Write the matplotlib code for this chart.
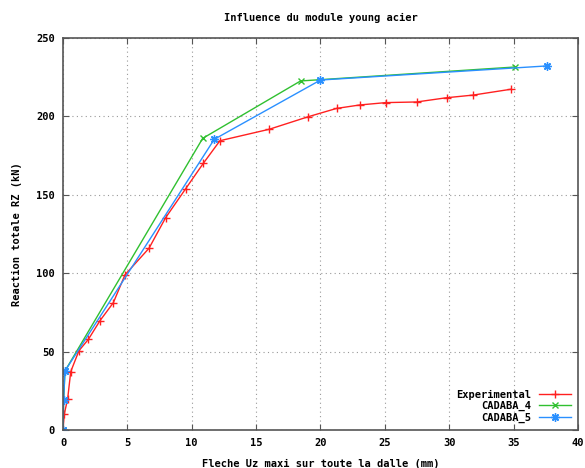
import matplotlib
matplotlib.use("Agg")
import matplotlib.pyplot as plt

# Experimental
exp_x = [0, 0.1, 0.36, 0.6, 1.24, 1.97, 2.87, 3.91, 4.81, 6.68, 7.97, 9.53, 10.9, 12.19,
         16.02, 19.05, 21.25, 23.06, 25.08, 27.46, 29.79, 31.86, 34.78]
exp_y = [0, 10.2, 19.8, 37.2, 50.6, 57.8, 69.7, 81.2, 98.9, 115.9, 135.4, 153.9, 170.1, 184.5,
         191.8, 199.8, 205.1, 207.3, 208.8, 209.2, 211.9, 213.6, 217.3]

# CADABA_4
c4_x = [0, 0.05, 0.15, 10.85, 18.45, 35.1]
c4_y = [0, 19, 37.6, 186, 222.6, 231.5]

# CADABA_5
c5_x = [0, 0.05, 0.15, 11.75, 20.0, 37.6]
c5_y = [0, 19, 37.6, 185.4, 223.2, 232.2]

font = "DejaVu Sans Mono"
fs = 7.5

fig = plt.figure(figsize=(5.85, 4.68), dpi=100)
ax = fig.add_axes([0.1077, 0.0812, 0.8803, 0.8376])

ax.plot(exp_x, exp_y, color="#ff2020", lw=1, marker="+", ms=6, mew=1, label="Experimental")
ax.plot(c4_x, c4_y, color="#30c030", lw=1, marker="x", ms=5, mew=1, label="CADABA_4")
ax.plot(c5_x, c5_y, color="#2a90ff", lw=1, marker=(8, 2, 0), ms=6, mew=1, label="CADABA_5")

ax.set_xlim(0, 40)
ax.set_ylim(0, 250)
ax.set_xticks(range(0, 41, 5))
ax.set_yticks(range(0, 251, 50))
ax.grid(True, linestyle=(0, (1, 3)), color="#999999", lw=0.8)
ax.tick_params(direction="in", top=True, right=True, length=4, color="#555555", pad=6)
for s in ax.spines.values():
    s.set_color("#555555")
    s.set_linewidth(1.2)
for lab in ax.get_xticklabels() + ax.get_yticklabels():
    lab.set_fontfamily(font)
    lab.set_fontweight("bold")
    lab.set_fontsize(fs)

ax.set_title("Influence du module young acier", fontfamily=font, fontweight="bold",
             fontsize=fs, pad=12)
ax.set_xlabel("Fleche Uz maxi sur toute la dalle (mm)", fontfamily=font, fontweight="bold",
              fontsize=fs, labelpad=8)
ax.set_ylabel("Reaction totale RZ (kN)", fontfamily=font, fontweight="bold",
              fontsize=fs, labelpad=10)

leg = ax.legend(loc="lower right", frameon=False, markerfirst=False,
                prop={"family": font, "weight": "bold", "size": fs},
                handlelength=3, labelspacing=0.12, borderaxespad=0.3, handletextpad=0.8)
for t in leg.get_texts():
    t.set_ha("right")

fig.savefig("out.png", dpi=100)
